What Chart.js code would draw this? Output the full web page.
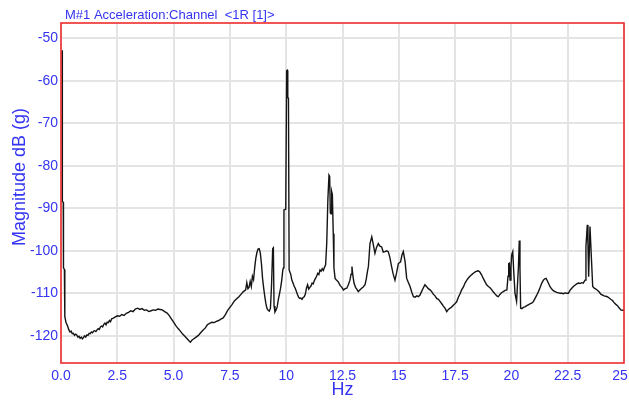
<!DOCTYPE html>
<html>
<head>
<meta charset="utf-8">
<script src="https://cdn.jsdelivr.net/npm/chart.js@4/dist/chart.umd.min.js"></script>
<style>
  html, body { margin: 0; padding: 0; background: #ffffff; }
  #wrap { width: 629px; height: 401px; }
</style>
</head>
<body>
<div id="wrap"><canvas id="spectrum" width="629" height="401"></canvas></div>
<script>
// Spectrum of channel 1R: frequency (Hz) and magnitude (dB re 1 g)
const freqHz = [
  0.05, 0.06, 0.10, 0.11, 0.15, 0.17, 0.22, 0.30, 0.35, 0.40,
  0.45, 0.50, 0.55, 0.60, 0.65, 0.70, 0.75, 0.80, 0.85, 0.90,
  0.95, 1.00, 1.05, 1.10, 1.15, 1.20, 1.25, 1.30, 1.35, 1.40,
  1.45, 1.50, 1.55, 1.60, 1.65, 1.70, 1.75, 1.80, 1.85, 1.90,
  1.95, 2.00, 2.05, 2.10, 2.15, 2.20, 2.25, 2.30, 2.40, 2.50,
  2.60, 2.70, 2.80, 2.90, 3.00, 3.10, 3.20, 3.30, 3.40, 3.50,
  3.60, 3.70, 3.80, 3.90, 4.00, 4.10, 4.20, 4.30, 4.40, 4.50,
  4.60, 4.70, 4.80, 4.90, 5.00, 5.10, 5.20, 5.30, 5.40, 5.50,
  5.60, 5.70, 5.75, 5.80, 5.90, 6.00, 6.10, 6.20, 6.30, 6.40,
  6.50, 6.60, 6.70, 6.80, 6.90, 7.00, 7.10, 7.20, 7.30, 7.40,
  7.50, 7.60, 7.70, 7.80, 7.90, 8.00, 8.10, 8.20, 8.25, 8.30,
  8.35, 8.40, 8.45, 8.50, 8.55, 8.60, 8.65, 8.70, 8.75, 8.80,
  8.85, 8.90, 8.95, 9.00, 9.05, 9.10, 9.15, 9.20, 9.25, 9.30,
  9.35, 9.40, 9.43, 9.46, 9.50, 9.55, 9.60, 9.65, 9.70, 9.75,
  9.80, 9.85, 9.88, 9.90, 9.98, 10.02, 10.05, 10.07, 10.10, 10.13,
  10.20, 10.25, 10.30, 10.35, 10.40, 10.45, 10.50, 10.55, 10.60, 10.65,
  10.70, 10.75, 10.80, 10.85, 10.90, 10.95, 11.00, 11.05, 11.10, 11.15,
  11.20, 11.25, 11.30, 11.35, 11.40, 11.45, 11.50, 11.55, 11.60, 11.65,
  11.70, 11.75, 11.80, 11.85, 11.90, 11.93, 11.96, 11.99, 12.02, 12.05,
  12.09, 12.12, 12.17, 12.22, 12.31, 12.40, 12.47, 12.54, 12.62, 12.69,
  12.76, 12.83, 12.88, 12.92, 12.96, 13.01, 13.08, 13.14, 13.20, 13.27,
  13.35, 13.42, 13.50, 13.56, 13.61, 13.65, 13.72, 13.80, 13.87, 13.94,
  14.01, 14.09, 14.16, 14.24, 14.31, 14.39, 14.46, 14.53, 14.60, 14.68,
  14.75, 14.83, 14.90, 14.98, 15.08, 15.14, 15.20, 15.28, 15.35, 15.42,
  15.50, 15.58, 15.65, 15.72, 15.80, 15.87, 15.94, 16.01, 16.08, 16.16,
  16.23, 16.31, 16.39, 16.46, 16.53, 16.61, 16.68, 16.76, 16.83, 16.90,
  16.98, 17.05, 17.13, 17.20, 17.28, 17.35, 17.42, 17.50, 17.57, 17.64,
  17.72, 17.79, 17.87, 17.94, 18.02, 18.09, 18.16, 18.24, 18.31, 18.38,
  18.46, 18.53, 18.60, 18.68, 18.75, 18.83, 18.90, 18.98, 19.05, 19.13,
  19.20, 19.28, 19.35, 19.42, 19.50, 19.57, 19.64, 19.72, 19.80, 19.85,
  19.88, 19.91, 19.94, 19.98, 20.01, 20.06, 20.10, 20.16, 20.23, 20.28,
  20.31, 20.35, 20.38, 20.41, 20.47, 20.53, 20.60, 20.68, 20.75, 20.82,
  20.90, 20.97, 21.05, 21.12, 21.20, 21.27, 21.35, 21.42, 21.48, 21.54,
  21.60, 21.66, 21.71, 21.79, 21.86, 21.94, 22.01, 22.09, 22.16, 22.23,
  22.31, 22.38, 22.46, 22.53, 22.60, 22.68, 22.75, 22.82, 22.90, 22.97,
  23.05, 23.12, 23.19, 23.27, 23.31, 23.37, 23.40, 23.43, 23.49, 23.55,
  23.61, 23.68, 23.75, 23.82, 23.90, 23.97, 24.04, 24.12, 24.19, 24.26,
  24.34, 24.41, 24.49, 24.56, 24.64, 24.71, 24.78, 24.86, 24.93, 25.00
];

const magDb = [
  -52.8, -88.4, -88.6, -104.0, -104.4, -115.5, -116.8, -117.8, -118.6, -119.1,
  -118.9, -119.5, -119.4, -119.9, -119.6, -119.8, -120.3, -120.1, -120.6, -120.3,
  -120.7, -120.4, -120.0, -120.3, -119.8, -119.9, -119.4, -119.5, -119.1, -119.3,
  -118.9, -118.8, -119.0, -118.6, -118.3, -118.5, -117.9, -117.7, -117.9, -117.3,
  -117.0, -117.4, -116.8, -116.9, -116.4, -116.7, -116.0, -115.9, -115.6, -115.3,
  -115.4, -115.0, -115.2, -114.7, -114.5, -114.1, -114.3, -113.7, -113.5, -113.8,
  -113.6, -114.0, -113.9, -114.3, -114.1, -113.9, -114.0, -113.7, -113.8, -113.9,
  -114.3, -114.6, -115.2, -116.0, -116.8, -117.6, -118.3, -118.9, -119.6, -120.1,
  -120.7, -121.3, -121.5, -121.1, -120.7, -120.3, -119.9, -119.3, -118.7, -118.2,
  -117.4, -117.1, -116.8, -116.9, -116.6, -116.4, -116.1, -115.8, -115.0, -114.0,
  -113.3, -112.6, -111.8, -111.3, -110.8, -110.2, -109.6, -109.2, -107.5, -108.9,
  -108.6, -107.2, -108.4, -106.0, -106.8, -104.0, -101.8, -100.4, -99.6, -99.5,
  -100.5, -103.0, -106.5, -108.8, -110.8, -112.5, -113.6, -114.0, -114.2, -113.5,
  -108.0, -99.5, -99.3, -113.0, -114.4, -113.9, -113.2, -111.5, -110.2, -108.8,
  -107.0, -104.5, -104.0, -90.4, -90.2, -57.6, -57.5, -64.0, -64.1, -104.5,
  -105.5, -106.9, -107.5, -108.3, -108.8, -109.5, -110.3, -110.9, -111.2, -111.1,
  -111.4, -111.0, -110.8, -110.2, -108.8, -108.0, -109.0, -108.6, -108.3, -107.6,
  -107.8, -107.0, -106.5, -106.0, -105.3, -105.6, -104.5, -104.8, -104.2, -104.6,
  -103.9, -103.3, -98.2, -88.0, -82.2, -82.5, -91.1, -91.3, -86.1, -86.8,
  -96.0, -104.0, -106.5, -106.8, -107.3, -108.2, -108.6, -109.2, -108.9, -108.8,
  -108.0, -106.9, -105.5, -103.7, -105.8, -107.6, -108.6, -109.1, -109.6, -109.2,
  -108.8, -108.5, -108.0, -106.5, -104.8, -103.7, -98.3, -96.7, -98.6, -100.6,
  -99.2, -98.3, -98.9, -99.1, -100.3, -100.2, -100.0, -100.2, -101.5, -103.7,
  -105.5, -106.9, -105.2, -103.0, -102.6, -101.0, -100.2, -102.6, -106.5, -107.4,
  -108.4, -109.8, -110.8, -110.9, -110.6, -110.8, -110.4, -109.6, -108.8, -108.0,
  -108.4, -108.9, -109.2, -109.6, -110.2, -110.6, -111.2, -111.4, -111.9, -112.4,
  -113.0, -113.5, -114.3, -113.8, -113.5, -113.2, -112.8, -112.4, -112.0, -111.0,
  -110.1, -109.2, -108.5, -107.6, -106.9, -106.4, -106.0, -105.6, -105.3, -105.0,
  -104.8, -104.7, -105.0, -105.7, -106.5, -107.3, -108.0, -108.4, -108.7, -109.2,
  -109.7, -110.2, -110.6, -110.8, -110.2, -109.8, -109.6, -109.3, -109.2, -106.0,
  -103.0, -102.9, -106.9, -104.0, -101.0, -100.2, -104.5, -110.0, -111.9, -107.0,
  -104.1, -97.6, -104.0, -113.5, -113.6, -113.3, -113.2, -112.9, -112.7, -112.5,
  -112.3, -112.0, -111.2, -110.5, -109.6, -108.7, -107.6, -106.9, -106.6, -106.5,
  -107.1, -107.8, -108.4, -109.0, -109.4, -109.6, -109.8, -109.9, -110.0, -110.0,
  -110.1, -109.9, -110.0, -110.0, -109.3, -108.8, -108.4, -108.1, -107.8, -107.6,
  -107.7, -107.5, -107.6, -106.9, -99.0, -93.9, -98.5, -106.1, -94.3, -101.4,
  -108.4, -108.8, -109.0, -109.3, -109.7, -110.2, -110.4, -110.6, -110.7, -110.8,
  -111.1, -111.4, -111.7, -112.2, -112.6, -112.9, -113.4, -113.9, -114.0, -114.0
];

// Axis ticks and labels
const xTickValues = [0, 2.5, 5, 7.5, 10, 12.5, 15, 17.5, 20, 22.5, 25];
const xTickLabels = ['0.0', '2.5', '5.0', '7.5', '10', '12.5', '15', '17.5', '20', '22.5', '25'];
const yTickValues = [-120, -110, -100, -90, -80, -70, -60, -50];

const chartTitle = 'M#1 Acceleration:Channel  <1R [1]>';
const xAxisTitle = 'Hz';
const yAxisTitle = 'Magnitude dB (g)';

const BLUE = '#3434f2';
const RED = '#ee2b2b';
const GRID = '#e4e4e4';
const FONT = '"Liberation Sans", Arial, sans-serif';
const TICK_FONT = '"Liberation Sans Narrow", "Arial Narrow", "Liberation Sans", sans-serif';

const points = freqHz.map((f, i) => ({ x: f, y: magDb[i] }));

// Red frame round the plot, chart caption and vertical axis caption
const framePlugin = {
  id: 'frameAndCaptions',
  afterDatasetsDraw(chart) {
    const { ctx, chartArea: a } = chart;
    ctx.save();
    ctx.strokeStyle = RED;
    ctx.lineWidth = 1.6;
    ctx.strokeRect(a.left, a.top, a.right - a.left, a.bottom - a.top);
    ctx.restore();
  },
  afterDraw(chart) {
    const { ctx, chartArea: a } = chart;
    ctx.save();
    ctx.fillStyle = BLUE;
    ctx.font = '13px ' + FONT;
    ctx.textAlign = 'left';
    ctx.textBaseline = 'alphabetic';
    ctx.fillText(chartTitle, a.left + 4, a.top - 4);

    ctx.translate(20, 177);
    ctx.rotate(-Math.PI / 2);
    ctx.font = '18px ' + FONT;
    ctx.textAlign = 'center';
    ctx.textBaseline = 'middle';
    ctx.fillText(yAxisTitle, 0, 0);
    ctx.restore();
  }
};

new Chart(document.getElementById('spectrum'), {
  type: 'line',
  data: {
    datasets: [{
      data: points,
      borderColor: '#141414',
      borderWidth: 1.4,
      pointRadius: 0,
      tension: 0,
      fill: false
    }]
  },
  options: {
    responsive: false,
    animation: false,
    layout: { padding: { top: 23, right: 5, left: 0, bottom: 0 } },
    plugins: {
      legend: { display: false },
      tooltip: { enabled: false },
      title: { display: false }
    },
    scales: {
      x: {
        type: 'linear',
        min: 0,
        max: 25,
        border: { display: false },
        grid: { color: GRID, lineWidth: 2, drawTicks: false },
        afterBuildTicks(scale) {
          scale.ticks = xTickValues.map(v => ({ value: v }));
        },
        ticks: {
          color: BLUE,
          font: { family: TICK_FONT, size: 14 },
          padding: 5,
          maxRotation: 0,
          autoSkip: false,
          // the last label sits at the canvas edge, so it is nudged left to stay whole
          callback: (value, index) =>
            index === xTickLabels.length - 1 ? xTickLabels[index] + '  ' : xTickLabels[index]
        },
        title: {
          display: true,
          text: xAxisTitle,
          color: BLUE,
          font: { family: FONT, size: 18 },
          padding: { top: 0, bottom: 0 }
        },
        afterFit(scale) {
          scale.height = 38;
          scale.paddingLeft = 0;
          scale.paddingRight = 0;
        }
      },
      y: {
        min: -126.4,
        max: -46.4,
        border: { display: false },
        grid: { color: GRID, lineWidth: 2, drawTicks: false },
        afterBuildTicks(scale) {
          scale.ticks = yTickValues.map(v => ({ value: v }));
        },
        ticks: {
          color: BLUE,
          font: { family: TICK_FONT, size: 14 },
          padding: 3,
          autoSkip: false,
          callback: v => String(v)
        },
        afterFit(scale) {
          scale.width = 61;
          scale.paddingTop = 0;
          scale.paddingBottom = 0;
        }
      }
    }
  },
  plugins: [framePlugin]
});
</script>
</body>
</html>
